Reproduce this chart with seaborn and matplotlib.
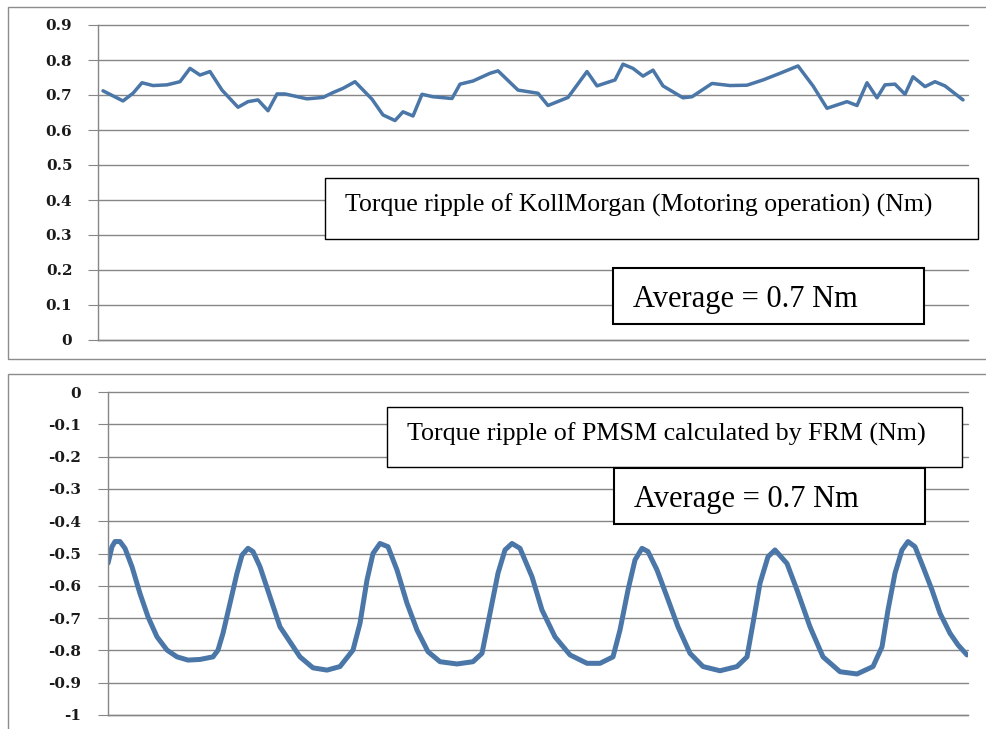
import matplotlib
matplotlib.use("Agg")
import matplotlib.pyplot as plt
from matplotlib.patches import Rectangle
import pandas as pd
import seaborn as sns

# ---- data -------------------------------------------------------------
# Measured torque ripple, KollMorgan motor (motoring operation), Nm
km_sample = [0.5, 2.5, 3.5, 4.4, 5.5, 6.9, 8.2, 9.2, 10.2, 11.2, 12.4, 14.0,
             15.0, 16.0, 17.0, 17.9, 18.7, 20.9, 22.5, 23.5, 24.5, 25.7, 27.4,
             28.5, 29.7, 30.5, 31.5, 32.4, 33.5, 35.4, 36.2, 37.5, 39.2, 40.0,
             42.0, 44.0, 45.0, 47.0, 48.9, 49.9, 51.7, 52.5, 53.5, 54.5, 55.5,
             56.5, 58.5, 59.4, 61.4, 63.2, 64.9, 66.5, 68.2, 70.0, 71.5, 72.9,
             74.9, 75.9, 76.9, 77.9, 78.7, 79.7, 80.7, 81.5, 82.7, 83.7, 84.7,
             86.5]
km_torque = [0.712, 0.683, 0.705, 0.735, 0.727, 0.729, 0.738, 0.776, 0.757,
             0.767, 0.714, 0.665, 0.681, 0.686, 0.655, 0.703, 0.703, 0.689,
             0.693, 0.707, 0.719, 0.738, 0.688, 0.643, 0.627, 0.652, 0.640,
             0.702, 0.695, 0.690, 0.731, 0.740, 0.762, 0.769, 0.714, 0.705,
             0.670, 0.693, 0.767, 0.726, 0.743, 0.788, 0.776, 0.754, 0.771,
             0.726, 0.692, 0.695, 0.733, 0.727, 0.728, 0.743, 0.762, 0.783,
             0.726, 0.662, 0.681, 0.670, 0.735, 0.692, 0.729, 0.731, 0.702,
             0.752, 0.724, 0.738, 0.726, 0.686]

# Torque ripple of the PMSM calculated by FRM, Nm
frm_sample = [0, 4, 7, 12, 17, 24, 32, 40, 49, 59, 69, 80, 92, 105, 110, 115,
              122, 129, 134, 140, 145, 152, 162, 172, 192, 205, 219, 232, 245,
              252, 259, 265, 272, 280, 289, 299, 309, 320, 332, 349, 365, 374,
              382, 390, 397, 404, 412, 424, 434, 447, 462, 479, 492, 505, 512,
              520, 527, 534, 540, 549, 559, 570, 582, 595, 612, 629, 639, 645,
              652, 660, 667, 679, 689, 702, 715, 732, 749, 765, 774, 780, 787,
              794, 800, 807, 815, 824, 832, 842, 850, 859]
frm_torque = [-0.530, -0.479, -0.463, -0.463, -0.484, -0.541, -0.624, -0.696,
              -0.758, -0.799, -0.820, -0.830, -0.828, -0.820, -0.799, -0.747,
              -0.654, -0.561, -0.505, -0.484, -0.494, -0.541, -0.634, -0.727,
              -0.820, -0.854, -0.861, -0.850, -0.799, -0.716, -0.582, -0.500,
              -0.469, -0.479, -0.551, -0.654, -0.737, -0.804, -0.835, -0.842,
              -0.835, -0.809, -0.685, -0.561, -0.489, -0.469, -0.484, -0.572,
              -0.675, -0.758, -0.814, -0.840, -0.840, -0.820, -0.737, -0.613,
              -0.520, -0.484, -0.494, -0.551, -0.634, -0.727, -0.809, -0.850,
              -0.863, -0.850, -0.820, -0.716, -0.592, -0.510, -0.489, -0.531,
              -0.613, -0.727, -0.820, -0.866, -0.873, -0.850, -0.789, -0.675,
              -0.561, -0.489, -0.463, -0.479, -0.541, -0.613, -0.685, -0.747,
              -0.783, -0.814]

top_ticks = [0, 0.1, 0.2, 0.3, 0.4, 0.5, 0.6, 0.7, 0.8, 0.9]
top_labels = ["0", "0.1", "0.2", "0.3", "0.4", "0.5", "0.6", "0.7", "0.8", "0.9"]
bot_ticks = [-1, -0.9, -0.8, -0.7, -0.6, -0.5, -0.4, -0.3, -0.2, -0.1, 0]
bot_labels = ["-1", "-0.9", "-0.8", "-0.7", "-0.6", "-0.5", "-0.4", "-0.3",
              "-0.2", "-0.1", "0"]

top_title = "Torque ripple of KollMorgan (Motoring operation) (Nm)"
bot_title = "Torque ripple of PMSM calculated by FRM (Nm)"
avg_text = "Average = 0.7 Nm"

# ---- styling ----------------------------------------------------------
W, H = 986, 729
LINE = "#4A76A8"
GRID = "#868686"
FRAME = "#8C8C8C"

sns.set_theme(style="white")
plt.rcParams["axes.unicode_minus"] = False

fig = plt.figure(figsize=(W / 100, H / 100), dpi=100)
fig.patch.set_facecolor("white")


def fx(px):
    return px / W


def fy(py):
    return 1 - py / H


def panel(left, top, right, bottom):
    return fig.add_axes([fx(left), fy(bottom), fx(right) - fx(left),
                         fy(top) - fy(bottom)])


def style_axes(ax, ticks, labels, xlim, pad):
    ax.set_xlim(*xlim)
    ax.set_ylim(ticks[0], ticks[-1])
    ax.set_yticks(ticks)
    ax.set_yticklabels(labels, fontfamily="DejaVu Serif", fontweight="bold",
                       fontsize=11, color="#1a1a1a")
    ax.set_xticks([])
    ax.set_xlabel("")
    ax.set_ylabel("")
    ax.set_facecolor("none")
    ax.grid(axis="y", color=GRID, linewidth=1.0)
    for gl in ax.get_ygridlines():
        gl.set_clip_on(False)
    ax.tick_params(axis="y", left=True, length=7.5, width=0.8, color=GRID,
                   pad=pad, direction="out")
    for s in ("top", "right"):
        ax.spines[s].set_visible(False)
    for s in ("left", "bottom"):
        ax.spines[s].set_color(GRID)
        ax.spines[s].set_linewidth(1.0)


def frame(left, top, right, bottom):
    fig.add_artist(Rectangle((fx(left), fy(bottom)), fx(right) - fx(left),
                             fy(top) - fy(bottom), transform=fig.transFigure,
                             fill=False, edgecolor=FRAME, linewidth=1.0))


def textbox(left, top, right, bottom, text, tx, baseline, size, lw):
    fig.add_artist(Rectangle((fx(left), fy(bottom)), fx(right) - fx(left),
                             fy(top) - fy(bottom), transform=fig.transFigure,
                             facecolor="white", edgecolor="black", linewidth=lw,
                             zorder=5))
    fig.text(fx(tx), fy(baseline), text, fontfamily="Liberation Serif",
             fontsize=size, va="baseline", ha="left", color="black", zorder=6)


# outer chart frames
frame(8, 7, 995, 359)
frame(8, 374, 995, 745)

# ---- upper chart: KollMorgan ------------------------------------------
ax1 = panel(98, 25, 968, 340)
km = pd.DataFrame({"sample": km_sample, "torque": km_torque})
sns.lineplot(data=km, x="sample", y="torque", ax=ax1, color=LINE,
             linewidth=2.5, solid_joinstyle="round")
style_axes(ax1, top_ticks, top_labels, (0, 87), 11)

# ---- lower chart: FRM -------------------------------------------------
ax2 = panel(108, 392, 968, 715)
frm = pd.DataFrame({"sample": frm_sample, "torque": frm_torque})
sns.lineplot(data=frm, x="sample", y="torque", ax=ax2, color=LINE,
             linewidth=3.6, solid_joinstyle="round", solid_capstyle="round")
style_axes(ax2, bot_ticks, bot_labels, (0, 860), 12)

# ---- annotation boxes -------------------------------------------------
textbox(325, 178, 978, 239, top_title, 345, 212, 18.5, 1.0)
textbox(613, 268, 924, 324, avg_text, 633, 307, 22, 1.5)
textbox(387, 407, 962, 467, bot_title, 407, 441, 18.7, 1.0)
textbox(614, 468, 925, 524, avg_text, 634, 507, 22, 1.5)

fig.savefig("out.png", dpi=100, facecolor="white")
